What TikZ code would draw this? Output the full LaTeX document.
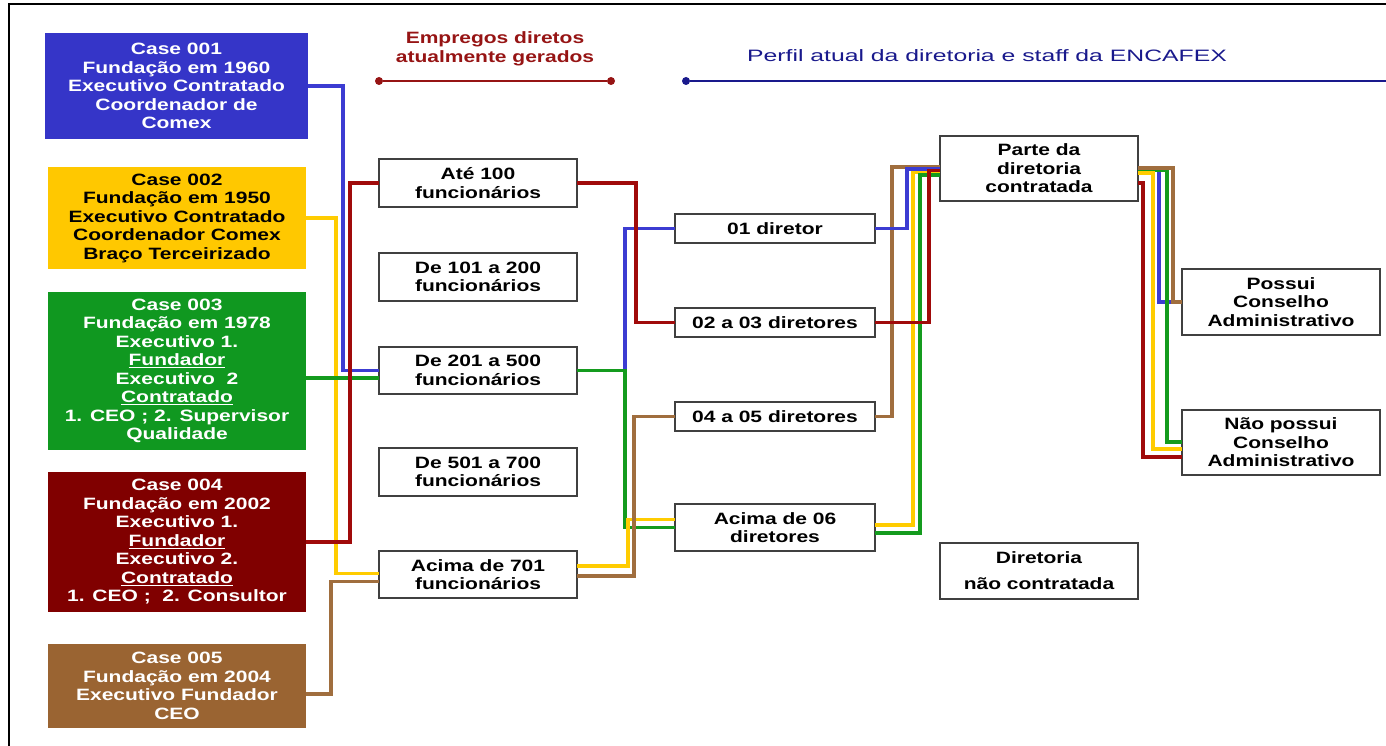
\documentclass[tikz,border=0pt]{standalone}
\usepackage{fontspec}
\setmainfont{Liberation Sans}[FakeStretch=1.28]
\newfontfamily\perfilfont{Liberation Sans}[FakeStretch=1.5]
\usetikzlibrary{calc}
\definecolor{cOne}{RGB}{53,53,200}
\definecolor{cTwo}{RGB}{255,200,0}
\definecolor{cThree}{RGB}{16,152,32}
\definecolor{cFour}{RGB}{128,0,0}
\definecolor{cFive}{RGB}{154,100,50}
\definecolor{lBlue}{RGB}{60,60,210}
\definecolor{lYellow}{RGB}{255,204,0}
\definecolor{lGreen}{RGB}{20,155,30}
\definecolor{lRed}{RGB}{160,10,10}
\definecolor{lBrown}{RGB}{160,110,62}
\definecolor{hRed}{RGB}{150,20,20}
\definecolor{hBlue}{RGB}{25,25,140}
\begin{document}
\begin{tikzpicture}[x=1pt,y=-1pt,
  txt/.style={font=\bfseries\fontsize{16.4}{18.5}\selectfont, align=center, inner sep=0pt, outer sep=0pt},
  cbox/.style={txt, text=white},
  wbox/.style={txt, draw=black!75, line width=1.2pt, fill=white},
  conn/.style={line width=3.2pt},
  cb/.style={conn, draw=lBlue},
  cy/.style={conn, draw=lYellow},
  cg/.style={conn, draw=lGreen},
  cr/.style={conn, draw=lRed},
  cbr/.style={conn, draw=lBrown},
  hdot/.style={circle, inner sep=0pt, minimum size=8pt}
]
\useasboundingbox (0,0) rectangle (1386,746);
% frame
\draw[line width=2.5pt] (1386,4) -- (9,4) -- (9,746);

% headers
\node[txt, text=hRed] (h1) at (495,49) {Empregos diretos\\atualmente gerados};
\node[hdot, fill=hRed] (hd1) at (379,81) {};
\node[hdot, fill=hRed] (hd2) at (611,81) {};
\draw[hRed, line width=1.5pt] (hd1) -- (hd2);
\node[inner sep=0pt, text=hBlue, font=\perfilfont\fontsize{16.5}{19}\selectfont] (h2) at (987,56) {Perfil atual da diretoria e staff da ENCAFEX};
\node[hdot, fill=hBlue] (hd3) at (686,81) {};
\coordinate (hend) at (1386,81);
\draw[hBlue, line width=1.5pt] (hd3) -- (hend);

% case boxes
\node[cbox, fill=cOne, minimum width=263, minimum height=106] (c1) at (176.5,86)
  {Case 001\\Fundação em 1960\\Executivo Contratado\\Coordenador de\\Comex};
\node[cbox, fill=cTwo, text=black, minimum width=258, minimum height=102] (c2) at (177,218)
  {Case 002\\Fundação em 1950\\Executivo Contratado\\Coordenador Comex\\Braço Terceirizado};
\node[cbox, fill=cThree, minimum width=258, minimum height=158] (c3) at (177,371)
  {Case 003\\Fundação em 1978\\Executivo 1.\\\underline{Fundador}\\Executivo\ \ 2\\\underline{Contratado}\\1. CEO ; 2. Supervisor\\Qualidade};
\node[cbox, fill=cFour, minimum width=258, minimum height=140] (c4) at (177,542)
  {Case 004\\Fundação em 2002\\Executivo 1.\\\underline{Fundador}\\Executivo 2.\\\underline{Contratado}\\1. CEO ;\ \ 2. Consultor};
\node[cbox, fill=cFive, minimum width=258, minimum height=84] (c5) at (177,686)
  {Case 005\\Fundação em 2004\\Executivo Fundador\\CEO};

% employee boxes
\node[wbox, minimum width=198, minimum height=48] (m1) at (478,183) {Até 100\\funcionários};
\node[wbox, minimum width=198, minimum height=48] (m2) at (478,277) {De 101 a 200\\funcionários};
\node[wbox, minimum width=198, minimum height=47] (m3) at (478,370.5) {De 201 a 500\\funcionários};
\node[wbox, minimum width=198, minimum height=48] (m4) at (478,472) {De 501 a 700\\funcionários};
\node[wbox, minimum width=198, minimum height=47] (m5) at (478,574.5) {Acima de 701\\funcionários};

% director boxes
\node[wbox, minimum width=200, minimum height=29] (d1) at (775,228.5) {01 diretor};
\node[wbox, minimum width=200, minimum height=29] (d2) at (775,322.5) {02 a 03 diretores};
\node[wbox, minimum width=200, minimum height=29] (d3) at (775,416.5) {04 a 05 diretores};
\node[wbox, minimum width=200, minimum height=47] (d4) at (775,527.5) {Acima de 06\\diretores};

% right boxes
\node[wbox, minimum width=198, minimum height=65] (p1) at (1039,168.5) {Parte da\\diretoria\\contratada};
\node[wbox, minimum width=198, minimum height=56, font=\bfseries\fontsize{16.4}{26}\selectfont] (p2) at (1039,571) {Diretoria\\não contratada};
\node[wbox, minimum width=198, minimum height=66] (ps) at (1281,302) {Possui\\Conselho\\Administrativo};
\node[wbox, minimum width=198, minimum height=65] (np) at (1281,442.5) {Não possui\\Conselho\\Administrativo};

% left -> employees
\draw[cb] (c1.east) -- ++(35,0) |- (m3.west);
\draw[cy] (c2.east) -- ++(30,0) |- ($(m5.west)+(0,-1)$);
\coordinate (g0) at ($(m3.west)+(0,7.5)$);
\draw[cg] (g0 -| c3.east) -- (g0);
\draw[cr] (c4.east) -- ++(44,0) |- (m1.west);
\draw[cbr] ($(c5.east)+(0,8)$) -- ++(25,0) |- ($(m5.west)+(0,7)$);

% employees -> directors
\draw[cb] (m3.east) -- ++(48,0) |- (d1.west);
\draw[cg] (m3.east) -- ++(48,0) |- (d4.west);
\draw[cr] (m1.east) -- ++(59,0) |- (d2.west);
\draw[cy] ($(m5.east)+(0,-8.5)$) -- ++(51,0) |- ($(d4.west)+(0,-8)$);
\draw[cbr] ($(m5.east)+(0,1.5)$) -- ++(57,0) |- (d3.west);

% directors -> parte
\draw[cbr] (d3.east) -- ++(17,0) |- ($(p1.west)+(0,-1.5)$);
\draw[cb] (d1.east) -- ++(32,0) |- ($(p1.west)+(0,0.5)$);
\draw[cy] ($(d4.east)+(0,-2.5)$) -- ++(38,0) |- ($(p1.west)+(0,4)$);
\draw[cg] ($(d4.east)+(0,5.5)$) -- ++(45,0) |- ($(p1.west)+(0,6.5)$);
\draw[cr] (d2.east) -- ++(54,0) |- ($(p1.west)+(0,2)$);

% parte -> conselho
\draw[cb] ($(p1.east)+(0,1.5)$) -- ++(21,0) |- (ps.west);
\draw[cg] ($(p1.east)+(0,1.5)$) -- ++(29,0) |- ($(np.west)+(0,-0.5)$);
\draw[cbr] ($(p1.east)+(0,-0.5)$) -- ++(35,0) |- (ps.west);
\draw[cy] ($(p1.east)+(0,4.5)$) -- ++(15,0) |- ($(np.west)+(0,6.5)$);
\draw[cr] ($(p1.east)+(0,14.5)$) -- ++(5,0) |- ($(np.west)+(0,14.5)$);
\end{tikzpicture}
\end{document}
